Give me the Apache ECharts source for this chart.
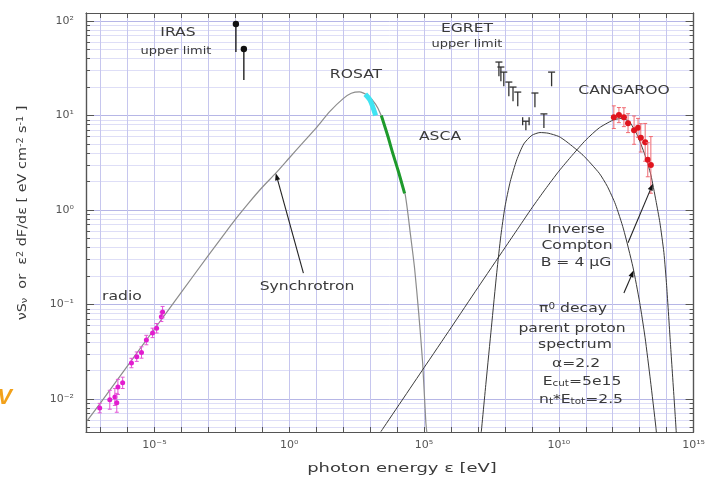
<!DOCTYPE html>
<html><head><meta charset="utf-8">
<script src="https://cdn.jsdelivr.net/npm/echarts@6/dist/echarts.min.js"></script>
<style>html,body{margin:0;padding:0;background:#fff}#c{width:708px;height:479px}</style>
</head><body><div id="c"></div>
<script>
// ---------- tick labels (exponents of 10) ----------
const xLabelExp = [-5, 0, 5, 10, 15];
const yLabelExp = [-2, -1, 0, 1, 2];

// ---------- synchrotron model curve (E in eV, flux in eV cm^-2 s^-1) ----------
const synchE = [3.2e-8, 1e-7, 1e-6, 1e-5, 1e-4, 1e-3, 3.16e-3, 1e-2, 3.16e-2, 0.1, 0.316, 1, 3.16, 10, 31.6, 100, 200, 400, 794, 1585, 2512, 3981, 6310, 1e4, 2e4, 3.16e4, 4.47e4, 6.3e4, 8.9e4, 1.17e5, 1.4e5];
const synchF = [5.9e-3, 9.1e-3, 0.0224, 0.055, 0.135, 0.331, 0.513, 0.794, 1.19, 1.74, 2.45, 3.55, 5.13, 7.4, 11.0, 15.1, 17.2, 17.8, 16.4, 13.2, 10.2, 6.8, 4.4, 2.8, 1.45, 0.54, 0.24, 0.083, 0.024, 5.6e-3, 3.5e-3];

// ---------- pi0 decay model curve ----------
const pionE = [1.26e7, 2.0e7, 3.16e7, 5.0e7, 7.1e7, 1.0e8, 1.58e8, 2.75e8, 5.0e8, 1.0e9, 2.0e9, 4.0e9, 1e10, 2.0e10, 7.9e10, 3.16e11, 6.3e11, 1.26e12, 2.5e12, 5.6e12, 1e13, 1.58e13, 2.5e13, 4.0e13, 4.5e13];
const pionF = [3.8e-3, 0.0151, 0.0575, 0.219, 0.537, 1.07, 2.0, 3.39, 5.0, 6.17, 6.6, 6.5, 6.0, 5.25, 3.8, 2.45, 1.78, 1.15, 0.63, 0.25, 0.105, 0.045, 0.0158, 5.0e-3, 3.5e-3];

// ---------- inverse Compton model curve ----------
const icE = [2.5e3, 1e5, 1e6, 1e7, 1e8, 3.16e8, 1e9, 3.16e9, 1e10, 3.16e10, 1e11, 3.16e11, 1e12, 2e12, 4e12, 7.9e12, 1.58e13, 2.6e13, 4e13, 5.6e13, 7.9e13, 1e14, 1.41e14, 2e14, 2.4e14];
const icF = [4.5e-3, 0.0214, 0.0566, 0.151, 0.398, 0.646, 1.05, 1.66, 2.57, 3.8, 5.5, 7.4, 8.9, 9.3, 8.7, 6.3, 3.8, 2.35, 1.26, 0.74, 0.355, 0.158, 0.0355, 7.9e-3, 3.5e-3];

// ---------- ROSAT and ASCA spectra ----------
const rosatE = [6.6e2, 1.0e3, 1.6e3];
const rosatF = [16.8, 14.5, 10.0];
const ascaE = [2.6e3, 4.5e3, 6.9e3, 1.1e4, 1.9e4];
const ascaF = [10.0, 6.1, 4.0, 2.6, 1.5];

// ---------- radio data ----------
const radioE = [9.3e-8, 2.2e-7, 3.4e-7, 4.0e-7, 4.4e-7, 6.6e-7, 1.4e-6, 2.2e-6, 3.3e-6, 5.0e-6, 8.5e-6, 1.2e-5, 1.8e-5, 2.0e-5];
const radioF = [8.0e-3, 9.8e-3, 1.05e-2, 9.1e-3, 1.34e-2, 1.48e-2, 2.4e-2, 2.8e-2, 3.1e-2, 4.2e-2, 5.0e-2, 5.6e-2, 7.4e-2, 8.3e-2];
const radioErrDex = [0.05, 0.1, 0.09, 0.1, 0.08, 0.06, 0.05, 0.05, 0.06, 0.05, 0.05, 0.05, 0.05, 0.06];

// ---------- IRAS upper limits ----------
const irasE = [1.05e-2, 2.07e-2];
const irasF = [93, 50.6];
const irasLineEnd = [47, 23.8];

// ---------- EGRET upper limits ----------
const egretE = [6.0e7, 7.1e7, 9.1e7, 1.4e8, 2.0e8, 3.0e8, 1.3e9, 5.4e9, 2.8e9];
const egretF = [36.8, 32.6, 28.8, 22.6, 20.0, 17.7, 17.3, 28.8, 10.4];
const egretBinE = [6.0e8];
const egretBinF = [8.7];

// ---------- CANGAROO data ----------
const cangE = [1.1e12, 1.7e12, 2.6e12, 3.7e12, 6.2e12, 8.7e12, 1.1e13, 1.6e13, 2.0e13, 2.6e13];
const cangF = [9.6, 10.1, 9.6, 8.3, 7.0, 7.4, 5.8, 5.2, 3.4, 3.0];
const cangErrDex = [0.12, 0.08, 0.1, 0.1, 0.15, 0.1, 0.15, 0.2, 0.18, 0.3];

// ---------- annotation arrows: [tailE, tailF, headE, headF] ----------
const arrowTails = [[3.35, 0.215, 0.316, 2.45], [3.7e12, 0.45, 3.1e13, 1.9], [2.6e12, 0.132, 6.0e12, 0.23]];

// ================= build =================
const L = Math.log10;
const X0 = -7.54, X1 = 15, Y0 = -2.35, Y1 = 2.085;
const xTicks = []; for (let n = -7; n <= 15; n++) xTicks.push(n);
const yMinor = []; for (let n = -3; n <= 2; n++) for (let k = 2; k <= 9; k++) { const v = n + Math.log10(k); if (v > Y0 && v < Y1) yMinor.push(v); }
const yMajor = yLabelExp.slice();
const supMap = {'-':'⁻','0':'⁰','1':'¹','2':'²','3':'³','4':'⁴','5':'⁵','6':'⁶','7':'⁷','8':'⁸','9':'⁹'};
const fmtPow = v => '10' + String(Math.round(v)).split('').map(c => supMap[c]).join('');
const pairs = (E, F) => E.map((e, i) => [L(e), L(F[i])]);
const FONT = 'DejaVu Sans';
const frame = {show: true, onZero: false, lineStyle: {color: '#555', width: 1.2}};

function axisX(pos, labels) {
  return {type: 'value', position: pos, min: X0, max: X1,
    axisLine: frame,
    axisTick: {show: true, inside: true, length: 5, customValues: xTicks, lineStyle: {color: '#555'}},
    axisLabel: labels ? {show: true, customValues: xLabelExp, formatter: fmtPow, color: '#555', fontSize: 11, fontFamily: FONT, margin: 8} : {show: false},
    splitLine: {show: !!labels, lineStyle: {color: '#c6c6ee', width: 1}}};
}
function axisY(pos, major, labels, split) {
  return {type: 'value', position: pos, min: Y0, max: Y1,
    axisLine: frame,
    axisTick: {show: true, inside: true, length: major ? 8 : 4, customValues: major ? yMajor : yMinor, lineStyle: {color: '#555'}},
    axisLabel: labels ? {show: true, customValues: yLabelExp, formatter: fmtPow, color: '#555', fontSize: 11, fontFamily: FONT, margin: 12} : {show: false},
    splitLine: {show: split, lineStyle: {color: major ? '#b6b6e6' : '#dedef7', width: 1}}};
}

function errSeries(E, F, errDex, errXDex, color, barColor, r) {
  return {type: 'custom', xAxisIndex: 0, yAxisIndex: 0, clip: true, z: 5,
    data: E.map((e, i) => [L(e), L(F[i]), errDex[i], errXDex]),
    encode: {x: 0, y: 1},
    renderItem(params, api) {
      const x = api.value(0), y = api.value(1), ey = api.value(2), ex = api.value(3);
      const p = api.coord([x, y]), a = api.coord([x, y - ey]), b = api.coord([x, y + ey]);
      const c = api.coord([x - ex, y]), d = api.coord([x + ex, y]);
      const st = {stroke: barColor, lineWidth: 1};
      return {type: 'group', children: [
        {type: 'line', shape: {x1: a[0], y1: a[1], x2: b[0], y2: b[1]}, style: st},
        {type: 'line', shape: {x1: a[0] - 2, y1: a[1], x2: a[0] + 2, y2: a[1]}, style: st},
        {type: 'line', shape: {x1: b[0] - 2, y1: b[1], x2: b[0] + 2, y2: b[1]}, style: st},
        {type: 'line', shape: {x1: c[0], y1: c[1], x2: d[0], y2: d[1]}, style: st},
        {type: 'circle', shape: {cx: p[0], cy: p[1], r: r}, style: {fill: color}}
      ]};
    }};
}

const curve = (E, F, color, w) => ({type: 'line', data: pairs(E, F), showSymbol: false, smooth: 0.2, lineStyle: {color: color, width: w}, z: 3});

const series = [
  curve(synchE, synchF, '#8c8c8c', 1.2),
  curve(pionE, pionF, '#3a3a3a', 1),
  curve(icE, icF, '#3a3a3a', 1),
  {type: 'line', data: pairs(rosatE, rosatF), showSymbol: false, smooth: 0.3, lineStyle: {color: '#40e4f2', width: 5}, z: 4},
  {type: 'line', data: pairs(ascaE, ascaF), showSymbol: false, smooth: 0.3, lineStyle: {color: '#1e9a2c', width: 3}, z: 4},
  errSeries(radioE, radioF, radioErrDex, 0.07, '#e21ccf', '#e455d6', 2.5),
  errSeries(cangE, cangF, cangErrDex, 0.1, '#e0141e', '#f06a72', 3),
  // IRAS upper limits
  {type: 'custom', xAxisIndex: 0, yAxisIndex: 0, z: 5, encode: {x: 0, y: 1},
    data: irasE.map((e, i) => [L(e), L(irasF[i]), L(irasLineEnd[i])]),
    renderItem(params, api) {
      const p = api.coord([api.value(0), api.value(1)]), q = api.coord([api.value(0), api.value(2)]);
      return {type: 'group', children: [
        {type: 'line', shape: {x1: p[0], y1: p[1], x2: q[0], y2: q[1]}, style: {stroke: '#111', lineWidth: 1.3}},
        {type: 'circle', shape: {cx: p[0], cy: p[1], r: 3.2}, style: {fill: '#111'}}]};
    }},
  // EGRET upper limits (T markers)
  {type: 'custom', xAxisIndex: 0, yAxisIndex: 0, z: 5, encode: {x: 0, y: 1},
    data: egretE.map((e, i) => [L(e), L(egretF[i])]),
    renderItem(params, api) {
      const p = api.coord([api.value(0), api.value(1)]), q = api.coord([api.value(0), api.value(1) - 0.15]);
      const st = {stroke: '#333', lineWidth: 1.3};
      return {type: 'group', children: [
        {type: 'line', shape: {x1: p[0] - 3.5, y1: p[1], x2: p[0] + 3.5, y2: p[1]}, style: st},
        {type: 'line', shape: {x1: p[0], y1: p[1], x2: q[0], y2: q[1]}, style: st}]};
    }},
  // EGRET bin marker (H)
  {type: 'custom', xAxisIndex: 0, yAxisIndex: 0, z: 5, encode: {x: 0, y: 1},
    data: egretBinE.map((e, i) => [L(e), L(egretBinF[i])]),
    renderItem(params, api) {
      const a = api.coord([api.value(0) - 0.12, api.value(1)]), b = api.coord([api.value(0) + 0.12, api.value(1)]);
      const st = {stroke: '#333', lineWidth: 1.3};
      return {type: 'group', children: [
        {type: 'line', shape: {x1: a[0], y1: a[1], x2: b[0], y2: b[1]}, style: st},
        {type: 'line', shape: {x1: a[0], y1: a[1] - 4, x2: a[0], y2: a[1] + 4}, style: st},
        {type: 'line', shape: {x1: b[0], y1: b[1] - 4, x2: b[0], y2: b[1] + 4}, style: st},
        {type: 'line', shape: {x1: (a[0] + b[0]) / 2, y1: a[1], x2: (a[0] + b[0]) / 2, y2: a[1] + 9}, style: st}]};
    }},
  // annotation arrows
  {type: 'custom', xAxisIndex: 0, yAxisIndex: 0, z: 6, encode: {x: 0, y: 1},
    data: arrowTails.map(a => [L(a[0]), L(a[1]), L(a[2]), L(a[3])]),
    renderItem(params, api) {
      const t = api.coord([api.value(0), api.value(1)]), h = api.coord([api.value(2), api.value(3)]);
      const dx = h[0] - t[0], dy = h[1] - t[1], len = Math.hypot(dx, dy), ux = dx / len, uy = dy / len;
      const bl = 7, hw = 2.6;
      const bx = h[0] - ux * bl, by = h[1] - uy * bl;
      return {type: 'group', children: [
        {type: 'line', shape: {x1: t[0], y1: t[1], x2: bx, y2: by}, style: {stroke: '#222', lineWidth: 1.1}},
        {type: 'polygon', shape: {points: [[h[0], h[1]], [bx - uy * hw, by + ux * hw], [bx + uy * hw, by - ux * hw]]}, style: {fill: '#111'}}]};
    }}
];

function T(x, y, text, size, scale, extra) {
  return Object.assign({type: 'text', x: x, y: y, scaleX: scale, z: 10,
    style: {text: text, fill: '#3a3a3a', fontSize: size, fontFamily: FONT, align: 'center', verticalAlign: 'middle', textAlign: 'center', textVerticalAlign: 'middle'}}, extra || {});
}
function R(x, y, text, size, scale, rot) {
  const g = T(x, y, text, size, scale, rot ? {rotation: rot} : null);
  g.style.rich = {
    a: {fontSize: size, fontFamily: FONT, fill: '#3a3a3a'},
    s: {fontSize: size - 4, fontFamily: FONT, fill: '#3a3a3a', verticalAlign: 'bottom'},
    p: {fontSize: size - 4, fontFamily: FONT, fill: '#3a3a3a', verticalAlign: 'top'}
  };
  return g;
}

const graphics = [
  T(178, 33, 'IRAS', 12, 1.3), T(176, 51, 'upper limit', 10, 1.3),
  T(356, 75, 'ROSAT', 12, 1.3), T(440, 137, 'ASCA', 12, 1.3),
  T(467, 29, 'EGRET', 12, 1.3), T(467, 44, 'upper limit', 10, 1.3),
  T(624, 91, 'CANGAROO', 12, 1.3),
  T(122, 297, 'radio', 12, 1.3), T(307, 287, 'Synchrotron', 12, 1.3),
  T(576, 230, 'Inverse', 12, 1.3), T(577, 246, 'Compton', 12, 1.3), T(576, 263, 'B = 4 µG', 12, 1.3),
  R(573, 309, '{a|π}{p|0}{a| decay}', 12, 1.3), T(572, 329, 'parent proton', 12, 1.3), T(575, 345, 'spectrum', 12, 1.3),
  T(576, 364, 'α=2.2', 12, 1.3), R(582, 382, '{a|E}{s|cut}{a|=5e15}', 12, 1.3), R(581, 400, '{a|n}{s|t}{a|*E}{s|tot}{a|=2.5}', 12, 1.3),
  T(402, 469, 'photon energy ε [eV]', 13, 1.38),
  R(23, 213, '{a|νS}{s|ν}{a|  or  ε}{p|2}{a| dF/dε [ eV cm}{p|-2}{a| s}{p|-1}{a| ]}', 12, 1.2, Math.PI / 2),
  {type: 'text', x: 12, y: 398, z: 10, style: {text: 'V', fill: '#f2a11a', fontSize: 22, fontWeight: 'bold', fontStyle: 'italic', fontFamily: 'Liberation Sans', align: 'right', verticalAlign: 'middle', textAlign: 'right', textVerticalAlign: 'middle'}}
];

const chart = echarts.init(document.getElementById('c'), null, {renderer: 'canvas'});
chart.setOption({
  animation: false,
  backgroundColor: '#fff',
  textStyle: {fontFamily: FONT},
  grid: {left: 86, right: 10, top: 13, bottom: 47, containLabel: false},
  xAxis: [axisX('bottom', true), axisX('top', false)],
  yAxis: [axisY('left', false, false, true), axisY('left', true, true, true), axisY('right', false, false, false), axisY('right', true, false, false)],
  series: series,
  graphic: graphics
});
</script></body></html>
